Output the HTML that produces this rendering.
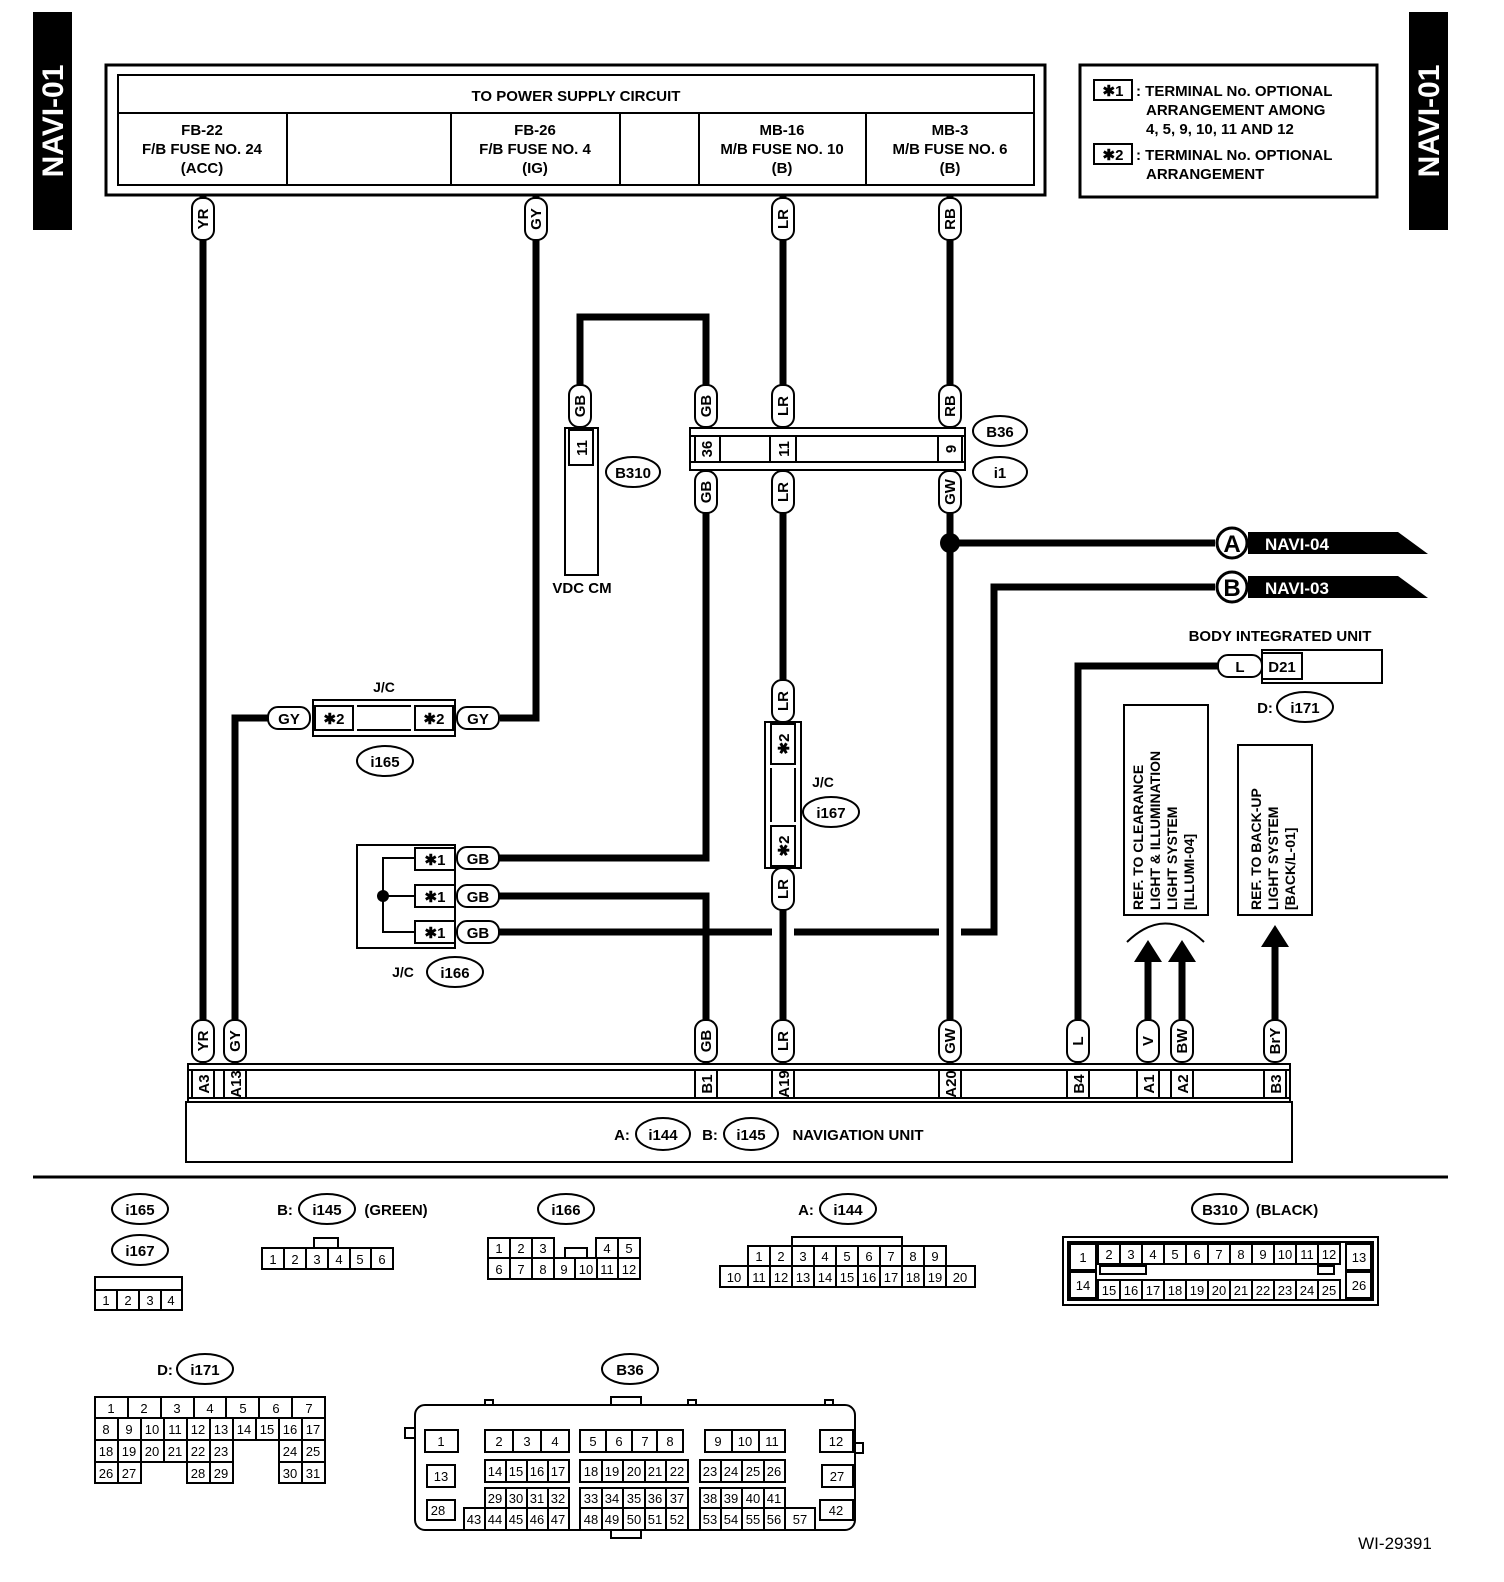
<!DOCTYPE html>
<html><head><meta charset="utf-8"><style>
html,body{margin:0;padding:0;background:#fff}
svg{display:block}
text{font-family:"Liberation Sans",sans-serif;font-weight:bold;font-size:15px;text-anchor:middle;fill:#000}
.s text,text.s{font-size:13px;font-weight:normal}
rect,ellipse{fill:#fff;stroke:#000;stroke-width:2}
.w{fill:none;stroke:#000;stroke-width:7}
.l{fill:none;stroke:#000;stroke-width:2}
</style></head><body>
<svg width="1504" height="1582" viewBox="0 0 1504 1582" xmlns="http://www.w3.org/2000/svg">
<!-- side tabs -->
<rect x="33" y="12" width="39" height="218" style="fill:#000;stroke:none"/>
<text transform="translate(63,121) rotate(-90)" style="fill:#fff;font-size:30px">NAVI-01</text>
<rect x="1409" y="12" width="39" height="218" style="fill:#000;stroke:none"/>
<text transform="translate(1439,121) rotate(-90)" style="fill:#fff;font-size:30px">NAVI-01</text>

<!-- power box -->
<rect x="106" y="65" width="939" height="130" style="stroke-width:3"/>
<rect x="118" y="75" width="916" height="110"/>
<line class="l" x1="118" y1="113" x2="1034" y2="113"/>
<line class="l" x1="287" y1="113" x2="287" y2="185"/>
<line class="l" x1="451" y1="113" x2="451" y2="185"/>
<line class="l" x1="620" y1="113" x2="620" y2="185"/>
<line class="l" x1="699" y1="113" x2="699" y2="185"/>
<line class="l" x1="866" y1="113" x2="866" y2="185"/>
<text x="576" y="101">TO POWER SUPPLY CIRCUIT</text>
<text x="202" y="135">FB-22</text><text x="202" y="154">F/B FUSE NO. 24</text><text x="202" y="173">(ACC)</text>
<text x="535" y="135">FB-26</text><text x="535" y="154">F/B FUSE NO. 4</text><text x="535" y="173">(IG)</text>
<text x="782" y="135">MB-16</text><text x="782" y="154">M/B FUSE NO. 10</text><text x="782" y="173">(B)</text>
<text x="950" y="135">MB-3</text><text x="950" y="154">M/B FUSE NO. 6</text><text x="950" y="173">(B)</text>

<!-- legend -->
<rect x="1080" y="65" width="297" height="132" style="stroke-width:3"/>
<rect x="1094" y="80" width="38" height="20"/><text x="1113" y="96">✱1</text>
<rect x="1094" y="144" width="38" height="20"/><text x="1113" y="160">✱2</text>
<g style="text-anchor:start">
<text x="1136" y="96" style="text-anchor:start">: TERMINAL No. OPTIONAL</text>
<text x="1146" y="115" style="text-anchor:start">ARRANGEMENT AMONG</text>
<text x="1146" y="134" style="text-anchor:start">4, 5, 9, 10, 11 AND 12</text>
<text x="1136" y="160" style="text-anchor:start">: TERMINAL No. OPTIONAL</text>
<text x="1146" y="179" style="text-anchor:start">ARRANGEMENT</text>
</g>

<!-- wires -->
<path class="w" d="M203 195 V1065"/>
<path class="w" d="M536 195 V718 H500"/>
<path class="w" d="M268 718 H235 V1065"/>
<path class="w" d="M580 400 V317 H706 V400"/>
<path class="w" d="M706 470 V858 H497"/>
<path class="w" d="M497 896 H706 V1065"/>
<path class="w" d="M497 932 H772 M794 932 H939 M961 932 H994 V587 H1215"/>
<path class="w" d="M783 195 V728 M783 860 V1065"/>
<path class="w" d="M950 195 V1065"/>
<path class="w" d="M950 543 H1215"/>
<path class="w" d="M1220 666 H1078 V1065"/>
<circle cx="950" cy="543" r="10"/>
<path class="w" d="M1148 1020 V960 M1182 1020 V960 M1275 1020 V945"/>
<path d="M1134 962 L1148 940 L1162 962Z M1168 962 L1182 940 L1196 962Z M1261 947 L1275 925 L1289 947Z" style="fill:#000"/>
<path class="l" d="M1127 942 Q1165 905 1204 942"/>

<!-- flags -->
<path d="M1248 532 H1398 L1428 554 H1248Z" style="fill:#000"/>
<circle cx="1232" cy="543" r="15" style="fill:#fff;stroke:#000;stroke-width:3"/>
<text x="1232" y="552" style="font-size:24px">A</text>
<text x="1297" y="550" style="fill:#fff;font-size:17px">NAVI-04</text>
<path d="M1248 576 H1398 L1428 598 H1248Z" style="fill:#000"/>
<circle cx="1232" cy="587" r="15" style="fill:#fff;stroke:#000;stroke-width:3"/>
<text x="1232" y="596" style="font-size:24px">B</text>
<text x="1297" y="594" style="fill:#fff;font-size:17px">NAVI-03</text>

<!-- B36/i1 strip -->
<rect x="690" y="428" width="275" height="42"/>
<line class="l" x1="690" y1="436" x2="965" y2="436"/>
<line class="l" x1="690" y1="462" x2="965" y2="462"/>
<line class="l" x1="720" y1="436" x2="720" y2="462"/>
<line class="l" x1="695" y1="436" x2="695" y2="462"/>
<line class="l" x1="770" y1="436" x2="770" y2="462"/><line class="l" x1="796" y1="436" x2="796" y2="462"/>
<line class="l" x1="938" y1="436" x2="938" y2="462"/><line class="l" x1="962" y1="436" x2="962" y2="462"/>
<text transform="translate(712,449) rotate(-90)">36</text>
<text transform="translate(789,449) rotate(-90)">11</text>
<text transform="translate(956,449) rotate(-90)">9</text>
<ellipse cx="1000" cy="431" rx="27" ry="15"/><text x="1000" y="437">B36</text>
<ellipse cx="1000" cy="472" rx="27" ry="15"/><text x="1000" y="478">i1</text>

<!-- B310 -->
<rect x="565" y="428" width="33" height="147"/>
<rect x="569" y="430" width="24" height="35"/>
<text transform="translate(587,448) rotate(-90)">11</text>
<ellipse cx="633" cy="472" rx="27" ry="15"/><text x="633" y="478">B310</text>
<text x="582" y="593">VDC CM</text>

<!-- i165 -->
<rect x="313" y="700" width="142" height="36"/>
<rect x="315" y="706" width="38" height="24"/><text x="334" y="724">✱2</text>
<rect x="415" y="706" width="38" height="24"/><text x="434" y="724">✱2</text>
<line class="l" x1="357" y1="706" x2="411" y2="706"/><line class="l" x1="357" y1="730" x2="411" y2="730"/>
<text x="384" y="692" style="font-size:14px">J/C</text>
<ellipse cx="385" cy="761" rx="28" ry="15"/><text x="385" y="767">i165</text>

<!-- i167 -->
<rect x="765" y="722" width="36" height="146"/>
<rect x="771" y="724" width="24" height="40"/><text transform="translate(789,744) rotate(-90)">✱2</text>
<rect x="771" y="826" width="24" height="40"/><text transform="translate(789,846) rotate(-90)">✱2</text>
<line class="l" x1="771" y1="768" x2="771" y2="822"/><line class="l" x1="795" y1="768" x2="795" y2="822"/>
<text x="823" y="787" style="font-size:14px">J/C</text>
<ellipse cx="831" cy="812" rx="28" ry="15"/><text x="831" y="818">i167</text>

<!-- i166 -->
<rect x="357" y="845" width="98" height="103"/>
<rect x="415" y="848" width="40" height="22"/><text x="435" y="865">✱1</text>
<rect x="415" y="885" width="40" height="22"/><text x="435" y="902">✱1</text>
<rect x="415" y="921" width="40" height="22"/><text x="435" y="938">✱1</text>
<path class="l" d="M383 896 V858 H415 M383 896 H415 M383 896 V932 H415"/>
<circle cx="383" cy="896" r="6" style="fill:#000"/>
<text x="403" y="977" style="font-size:14px">J/C</text>
<ellipse cx="455" cy="972" rx="28" ry="15"/><text x="455" y="978">i166</text>

<!-- body integrated unit -->
<rect x="1262" y="650" width="120" height="33"/>
<rect x="1262" y="653" width="40" height="26"/><text x="1282" y="672">D21</text>
<text x="1280" y="641">BODY INTEGRATED UNIT</text>
<text x="1265" y="713">D:</text>
<ellipse cx="1305" cy="707" rx="28" ry="15"/><text x="1305" y="713">i171</text>

<!-- ref boxes -->
<rect x="1124" y="705" width="84" height="210"/>
<text transform="translate(1143,910) rotate(-90)" style="text-anchor:start;font-size:14px">REF. TO CLEARANCE</text>
<text transform="translate(1160,910) rotate(-90)" style="text-anchor:start;font-size:14px">LIGHT &amp; ILLUMINATION</text>
<text transform="translate(1177,910) rotate(-90)" style="text-anchor:start;font-size:14px">LIGHT SYSTEM</text>
<text transform="translate(1194,910) rotate(-90)" style="text-anchor:start;font-size:14px">[ILLUMI-04]</text>
<rect x="1238" y="745" width="74" height="170"/>
<text transform="translate(1261,910) rotate(-90)" style="text-anchor:start;font-size:14px">REF. TO BACK-UP</text>
<text transform="translate(1278,910) rotate(-90)" style="text-anchor:start;font-size:14px">LIGHT SYSTEM</text>
<text transform="translate(1295,910) rotate(-90)" style="text-anchor:start;font-size:14px">[BACK/L-01]</text>

<!-- vertical pills -->
<g>
<g transform="translate(203,219)"><rect x="-11" y="-21" width="22" height="42" rx="10"/><text transform="rotate(-90)" y="5">YR</text></g>
<g transform="translate(536,219)"><rect x="-11" y="-21" width="22" height="42" rx="10"/><text transform="rotate(-90)" y="5">GY</text></g>
<g transform="translate(783,219)"><rect x="-11" y="-21" width="22" height="42" rx="10"/><text transform="rotate(-90)" y="5">LR</text></g>
<g transform="translate(950,219)"><rect x="-11" y="-21" width="22" height="42" rx="10"/><text transform="rotate(-90)" y="5">RB</text></g>
<g transform="translate(580,406)"><rect x="-11" y="-21" width="22" height="42" rx="10"/><text transform="rotate(-90)" y="5">GB</text></g>
<g transform="translate(706,406)"><rect x="-11" y="-21" width="22" height="42" rx="10"/><text transform="rotate(-90)" y="5">GB</text></g>
<g transform="translate(783,406)"><rect x="-11" y="-21" width="22" height="42" rx="10"/><text transform="rotate(-90)" y="5">LR</text></g>
<g transform="translate(950,406)"><rect x="-11" y="-21" width="22" height="42" rx="10"/><text transform="rotate(-90)" y="5">RB</text></g>
<g transform="translate(706,492)"><rect x="-11" y="-21" width="22" height="42" rx="10"/><text transform="rotate(-90)" y="5">GB</text></g>
<g transform="translate(783,492)"><rect x="-11" y="-21" width="22" height="42" rx="10"/><text transform="rotate(-90)" y="5">LR</text></g>
<g transform="translate(950,492)"><rect x="-11" y="-21" width="22" height="42" rx="10"/><text transform="rotate(-90)" y="5">GW</text></g>
<g transform="translate(783,701)"><rect x="-11" y="-21" width="22" height="42" rx="10"/><text transform="rotate(-90)" y="5">LR</text></g>
<g transform="translate(783,889)"><rect x="-11" y="-21" width="22" height="42" rx="10"/><text transform="rotate(-90)" y="5">LR</text></g>
<g transform="translate(203,1041)"><rect x="-11" y="-21" width="22" height="42" rx="10"/><text transform="rotate(-90)" y="5">YR</text></g>
<g transform="translate(235,1041)"><rect x="-11" y="-21" width="22" height="42" rx="10"/><text transform="rotate(-90)" y="5">GY</text></g>
<g transform="translate(706,1041)"><rect x="-11" y="-21" width="22" height="42" rx="10"/><text transform="rotate(-90)" y="5">GB</text></g>
<g transform="translate(783,1041)"><rect x="-11" y="-21" width="22" height="42" rx="10"/><text transform="rotate(-90)" y="5">LR</text></g>
<g transform="translate(950,1041)"><rect x="-11" y="-21" width="22" height="42" rx="10"/><text transform="rotate(-90)" y="5">GW</text></g>
<g transform="translate(1078,1041)"><rect x="-11" y="-21" width="22" height="42" rx="10"/><text transform="rotate(-90)" y="5">L</text></g>
<g transform="translate(1148,1041)"><rect x="-11" y="-21" width="22" height="42" rx="10"/><text transform="rotate(-90)" y="5">V</text></g>
<g transform="translate(1182,1041)"><rect x="-11" y="-21" width="22" height="42" rx="10"/><text transform="rotate(-90)" y="5">BW</text></g>
<g transform="translate(1275,1041)"><rect x="-11" y="-21" width="22" height="42" rx="10"/><text transform="rotate(-90)" y="5">BrY</text></g>
</g>
<!-- horizontal pills -->
<rect x="268" y="707" width="42" height="22" rx="10"/><text x="289" y="724">GY</text>
<rect x="457" y="707" width="42" height="22" rx="10"/><text x="478" y="724">GY</text>
<rect x="457" y="847" width="42" height="22" rx="10"/><text x="478" y="864">GB</text>
<rect x="457" y="885" width="42" height="22" rx="10"/><text x="478" y="902">GB</text>
<rect x="457" y="921" width="42" height="22" rx="10"/><text x="478" y="938">GB</text>
<rect x="1218" y="655" width="44" height="22" rx="10"/><text x="1240" y="672">L</text>

<!-- navigation unit -->
<rect x="188" y="1064" width="1102" height="38"/>
<line class="l" x1="188" y1="1070" x2="1290" y2="1070"/>
<line class="l" x1="188" y1="1098" x2="1290" y2="1098"/>
<rect x="186" y="1102" width="1106" height="60"/>
<g class="l">
<path class="l" d="M192 1070V1098 M214 1070V1098 M224 1070V1098 M246 1070V1098 M695 1070V1098 M717 1070V1098 M772 1070V1098 M794 1070V1098 M939 1070V1098 M961 1070V1098 M1067 1070V1098 M1089 1070V1098 M1137 1070V1098 M1159 1070V1098 M1171 1070V1098 M1193 1070V1098 M1264 1070V1098 M1286 1070V1098"/>
</g>
<text transform="translate(209,1084) rotate(-90)">A3</text>
<text transform="translate(241,1084) rotate(-90)">A13</text>
<text transform="translate(712,1084) rotate(-90)">B1</text>
<text transform="translate(789,1084) rotate(-90)">A19</text>
<text transform="translate(956,1084) rotate(-90)">A20</text>
<text transform="translate(1084,1084) rotate(-90)">B4</text>
<text transform="translate(1154,1084) rotate(-90)">A1</text>
<text transform="translate(1188,1084) rotate(-90)">A2</text>
<text transform="translate(1281,1084) rotate(-90)">B3</text>
<text x="622" y="1140">A:</text>
<ellipse cx="663" cy="1134" rx="27" ry="16"/><text x="663" y="1140">i144</text>
<text x="710" y="1140">B:</text>
<ellipse cx="751" cy="1134" rx="27" ry="16"/><text x="751" y="1140">i145</text>
<text x="858" y="1140">NAVIGATION UNIT</text>

<line x1="33" y1="1177" x2="1448" y2="1177" style="stroke:#000;stroke-width:3"/>

<!-- bottom connectors -->
<ellipse cx="140" cy="1209" rx="28" ry="15"/><text x="140" y="1215">i165</text>
<ellipse cx="140" cy="1250" rx="28" ry="15"/><text x="140" y="1256">i167</text>
<g class="s">
<rect x="95" y="1277" width="87" height="33"/><line class="l" x1="95" y1="1290" x2="182" y2="1290"/>
<path class="l" d="M117 1290V1310 M139 1290V1310 M161 1290V1310"/>
<text x="106" y="1305">1</text><text x="128" y="1305">2</text><text x="150" y="1305">3</text><text x="171" y="1305">4</text>
</g>

<text x="285" y="1215">B:</text>
<ellipse cx="327" cy="1209" rx="28" ry="15"/><text x="327" y="1215">i145</text>
<text x="396" y="1215">(GREEN)</text>
<g class="s">
<rect x="314" y="1238" width="24" height="10"/>
<rect x="262" y="1248" width="131" height="21"/>
<path class="l" d="M284 1248V1269 M306 1248V1269 M328 1248V1269 M350 1248V1269 M371 1248V1269"/>
<text x="273" y="1264">1</text><text x="295" y="1264">2</text><text x="317" y="1264">3</text><text x="339" y="1264">4</text><text x="360" y="1264">5</text><text x="382" y="1264">6</text>
</g>

<ellipse cx="566" cy="1209" rx="28" ry="15"/><text x="566" y="1215">i166</text>
<g class="s">
<rect x="488" y="1238" width="66" height="20"/><rect x="596" y="1238" width="44" height="20"/>
<rect x="565" y="1248" width="22" height="10"/>
<rect x="488" y="1258" width="152" height="21"/>
<path class="l" d="M510 1238V1258 M532 1238V1258 M618 1238V1258 M510 1258V1279 M532 1258V1279 M554 1258V1279 M575 1258V1279 M597 1258V1279 M618 1258V1279"/>
<text x="499" y="1253">1</text><text x="521" y="1253">2</text><text x="543" y="1253">3</text><text x="607" y="1253">4</text><text x="629" y="1253">5</text>
<text x="499" y="1274">6</text><text x="521" y="1274">7</text><text x="543" y="1274">8</text><text x="564" y="1274">9</text><text x="586" y="1274">10</text><text x="607" y="1274">11</text><text x="629" y="1274">12</text>
</g>

<text x="806" y="1215">A:</text>
<ellipse cx="848" cy="1209" rx="28" ry="15"/><text x="848" y="1215">i144</text>
<g class="s">
<rect x="792" y="1237" width="110" height="9"/>
<rect x="748" y="1246" width="198" height="20"/>
<rect x="720" y="1266" width="255" height="21"/>
<path class="l" d="M770 1246V1287 M792 1246V1287 M814 1246V1287 M836 1246V1287 M858 1246V1287 M880 1246V1287 M902 1246V1287 M924 1246V1287 M748 1266V1287 M946 1266V1287"/>
<text x="759" y="1261">1</text><text x="781" y="1261">2</text><text x="803" y="1261">3</text><text x="825" y="1261">4</text><text x="847" y="1261">5</text><text x="869" y="1261">6</text><text x="891" y="1261">7</text><text x="913" y="1261">8</text><text x="935" y="1261">9</text>
<text x="734" y="1282">10</text><text x="759" y="1282">11</text><text x="781" y="1282">12</text><text x="803" y="1282">13</text><text x="825" y="1282">14</text><text x="847" y="1282">15</text><text x="869" y="1282">16</text><text x="891" y="1282">17</text><text x="913" y="1282">18</text><text x="935" y="1282">19</text><text x="960" y="1282">20</text>
</g>

<ellipse cx="1220" cy="1209" rx="28" ry="15"/><text x="1220" y="1215">B310</text>
<text x="1287" y="1215">(BLACK)</text>
<g class="s">
<rect x="1063" y="1237" width="315" height="68"/>
<rect x="1068" y="1242" width="305" height="58"/>
<rect x="1070" y="1244" width="26" height="26"/><rect x="1070" y="1272" width="26" height="26"/>
<rect x="1346" y="1244" width="25" height="26"/><rect x="1346" y="1272" width="25" height="26"/>
<rect x="1098" y="1244" width="242" height="20"/>
<rect x="1098" y="1280" width="242" height="20"/>
<rect x="1100" y="1266" width="46" height="8"/><rect x="1318" y="1266" width="16" height="8"/>
<path class="l" d="M1120 1244V1264 M1142 1244V1264 M1164 1244V1264 M1186 1244V1264 M1208 1244V1264 M1230 1244V1264 M1252 1244V1264 M1274 1244V1264 M1296 1244V1264 M1318 1244V1264 M1120 1280V1300 M1142 1280V1300 M1164 1280V1300 M1186 1280V1300 M1208 1280V1300 M1230 1280V1300 M1252 1280V1300 M1274 1280V1300 M1296 1280V1300 M1318 1280V1300"/>
<text x="1083" y="1262">1</text><text x="1083" y="1290">14</text><text x="1359" y="1262">13</text><text x="1359" y="1290">26</text>
<text x="1109" y="1259">2</text><text x="1131" y="1259">3</text><text x="1153" y="1259">4</text><text x="1175" y="1259">5</text><text x="1197" y="1259">6</text><text x="1219" y="1259">7</text><text x="1241" y="1259">8</text><text x="1263" y="1259">9</text><text x="1285" y="1259">10</text><text x="1307" y="1259">11</text><text x="1329" y="1259">12</text>
<text x="1109" y="1295">15</text><text x="1131" y="1295">16</text><text x="1153" y="1295">17</text><text x="1175" y="1295">18</text><text x="1197" y="1295">19</text><text x="1219" y="1295">20</text><text x="1241" y="1295">21</text><text x="1263" y="1295">22</text><text x="1285" y="1295">23</text><text x="1307" y="1295">24</text><text x="1329" y="1295">25</text>
</g>

<text x="165" y="1375">D:</text>
<ellipse cx="205" cy="1369" rx="28" ry="15"/><text x="205" y="1375">i171</text>
<g class="s">
<rect x="95" y="1397" width="230" height="21"/>
<path class="l" d="M128 1397V1418 M161 1397V1418 M194 1397V1418 M226 1397V1418 M259 1397V1418 M292 1397V1418"/>
<text x="111" y="1413">1</text><text x="144" y="1413">2</text><text x="177" y="1413">3</text><text x="210" y="1413">4</text><text x="243" y="1413">5</text><text x="276" y="1413">6</text><text x="309" y="1413">7</text>
<rect x="95" y="1418" width="230" height="22"/>
<path class="l" d="M118 1418V1440 M141 1418V1440 M164 1418V1440 M187 1418V1440 M210 1418V1440 M233 1418V1440 M256 1418V1440 M279 1418V1440 M302 1418V1440"/>
<text x="106" y="1434">8</text><text x="129" y="1434">9</text><text x="152" y="1434">10</text><text x="175" y="1434">11</text><text x="198" y="1434">12</text><text x="221" y="1434">13</text><text x="244" y="1434">14</text><text x="267" y="1434">15</text><text x="290" y="1434">16</text><text x="313" y="1434">17</text>
<rect x="95" y="1440" width="46" height="22"/><rect x="141" y="1440" width="46" height="22"/><rect x="187" y="1440" width="46" height="22"/><rect x="279" y="1440" width="46" height="22"/>
<rect x="95" y="1462" width="46" height="21"/><rect x="187" y="1462" width="46" height="21"/><rect x="279" y="1462" width="46" height="21"/>
<path class="l" d="M118 1440V1483 M164 1440V1462 M210 1440V1483 M302 1440V1483"/>
<text x="106" y="1456">18</text><text x="129" y="1456">19</text><text x="152" y="1456">20</text><text x="175" y="1456">21</text><text x="198" y="1456">22</text><text x="221" y="1456">23</text><text x="290" y="1456">24</text><text x="313" y="1456">25</text>
<text x="106" y="1478">26</text><text x="129" y="1478">27</text><text x="198" y="1478">28</text><text x="221" y="1478">29</text><text x="290" y="1478">30</text><text x="313" y="1478">31</text>
</g>

<ellipse cx="630" cy="1369" rx="28" ry="15"/><text x="630" y="1375">B36</text>
<g class="s">
<rect x="611" y="1397" width="30" height="10"/>
<rect x="485" y="1400" width="8" height="6"/><rect x="688" y="1400" width="8" height="6"/><rect x="825" y="1400" width="8" height="6"/>
<rect x="405" y="1428" width="10" height="10"/><rect x="855" y="1443" width="8" height="10"/>
<rect x="415" y="1405" width="440" height="125" rx="10"/>
<rect x="611" y="1530" width="30" height="8"/>
<rect x="425" y="1430" width="33" height="22"/><rect x="427" y="1465" width="28" height="22"/><rect x="427" y="1500" width="28" height="20"/>
<rect x="820" y="1430" width="33" height="22"/><rect x="822" y="1465" width="31" height="22"/><rect x="820" y="1500" width="33" height="20"/>
<text x="441" y="1446">1</text><text x="441" y="1481">13</text><text x="438" y="1515">28</text>
<text x="836" y="1446">12</text><text x="837" y="1481">27</text><text x="836" y="1515">42</text>
<rect x="485" y="1430" width="84" height="22"/><rect x="580" y="1430" width="103" height="22"/><rect x="705" y="1430" width="80" height="22"/>
<path class="l" d="M513 1430V1452 M541 1430V1452 M606 1430V1452 M632 1430V1452 M657 1430V1452 M732 1430V1452 M759 1430V1452"/>
<text x="499" y="1446">2</text><text x="527" y="1446">3</text><text x="555" y="1446">4</text><text x="593" y="1446">5</text><text x="619" y="1446">6</text><text x="645" y="1446">7</text><text x="670" y="1446">8</text><text x="718" y="1446">9</text><text x="745" y="1446">10</text><text x="772" y="1446">11</text>
<rect x="485" y="1460" width="84" height="22"/><rect x="580" y="1460" width="108" height="22"/><rect x="700" y="1460" width="85" height="22"/>
<path class="l" d="M506 1460V1482 M527 1460V1482 M548 1460V1482 M602 1460V1482 M623 1460V1482 M645 1460V1482 M666 1460V1482 M721 1460V1482 M742 1460V1482 M764 1460V1482"/>
<text x="495" y="1476">14</text><text x="516" y="1476">15</text><text x="537" y="1476">16</text><text x="558" y="1476">17</text><text x="591" y="1476">18</text><text x="612" y="1476">19</text><text x="634" y="1476">20</text><text x="655" y="1476">21</text><text x="677" y="1476">22</text><text x="710" y="1476">23</text><text x="731" y="1476">24</text><text x="753" y="1476">25</text><text x="774" y="1476">26</text>
<rect x="485" y="1488" width="84" height="20"/><rect x="580" y="1488" width="108" height="20"/><rect x="700" y="1488" width="85" height="20"/>
<rect x="464" y="1508" width="105" height="22"/><rect x="580" y="1508" width="108" height="22"/><rect x="700" y="1508" width="115" height="22"/>
<path class="l" d="M506 1488V1530 M527 1488V1530 M548 1488V1530 M485 1508V1530 M602 1488V1530 M623 1488V1530 M645 1488V1530 M666 1488V1530 M721 1488V1530 M742 1488V1530 M764 1488V1530 M785 1508V1530"/>
<text x="495" y="1503">29</text><text x="516" y="1503">30</text><text x="537" y="1503">31</text><text x="558" y="1503">32</text><text x="591" y="1503">33</text><text x="612" y="1503">34</text><text x="634" y="1503">35</text><text x="655" y="1503">36</text><text x="677" y="1503">37</text><text x="710" y="1503">38</text><text x="731" y="1503">39</text><text x="753" y="1503">40</text><text x="774" y="1503">41</text>
<text x="474" y="1524">43</text><text x="495" y="1524">44</text><text x="516" y="1524">45</text><text x="537" y="1524">46</text><text x="558" y="1524">47</text><text x="591" y="1524">48</text><text x="612" y="1524">49</text><text x="634" y="1524">50</text><text x="655" y="1524">51</text><text x="677" y="1524">52</text><text x="710" y="1524">53</text><text x="731" y="1524">54</text><text x="753" y="1524">55</text><text x="774" y="1524">56</text><text x="800" y="1524">57</text>
</g>

<text x="1395" y="1549" style="font-weight:normal;font-size:17px">WI-29391</text>
</svg>
</body></html>
